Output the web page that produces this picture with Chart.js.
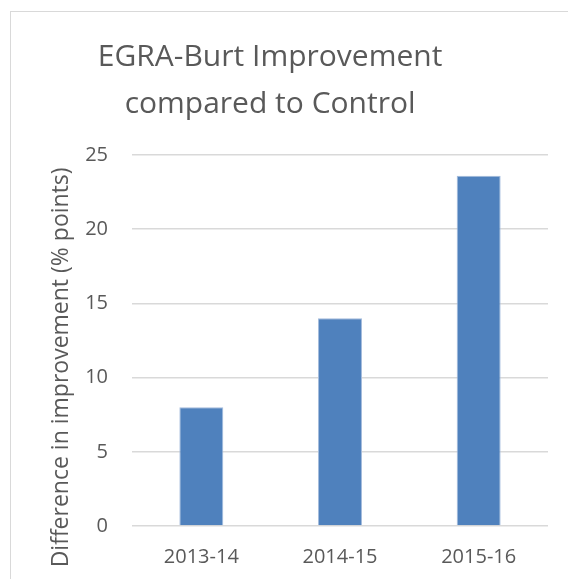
<!DOCTYPE html>
<html>
<head>
<meta charset="utf-8">
<script src="https://cdn.jsdelivr.net/npm/chart.js@4"></script>
<style>
    html, body { margin: 0; padding: 0; background: #fff; overflow: hidden; }
    #frame {
        position: absolute;
        left: 10px;
        top: 11px;
        width: 600px;
        height: 600px;
        border: 1px solid #d9d9d9;
    }
    #wrap { position: absolute; left: 0; top: 0; width: 568px; height: 579px; }
</style>
</head>
<body>
<div id="frame"></div>
<div id="wrap"><canvas id="improvementChart" width="568" height="579"></canvas></div>
<script>
// Chart data
let years = ['2013-14', '2014-15', '2015-16'];
let improvement = [8.0, 14.0, 23.6];
let yTicks = [0, 5, 10, 15, 20, 25];

let textColor = '#595959';
let fontFamily = '"Open Sans", Lato, sans-serif';

let ctx = document.getElementById('improvementChart').getContext('2d');
let improvementChart = new Chart(ctx, {
    type: 'bar',
    data: {
        labels: years,
        datasets: [{
            label: 'Difference in improvement',
            data: improvement,
            backgroundColor: '#4f81bd',
            borderColor: '#a3bbdc',
            borderWidth: 1,
            barPercentage: 1,
            categoryPercentage: 0.317
        }]
    },
    options: {
        responsive: false,
        animation: false,
        layout: {
            padding: { left: 0, top: 11, right: 20, bottom: 0 }
        },
        plugins: {
            legend: { display: false },
            tooltip: { enabled: false },
            title: {
                display: true,
                text: ['EGRA-Burt Improvement ', 'compared to Control '],
                color: textColor,
                font: { family: fontFamily, size: 30, weight: 'normal', lineHeight: '47px' },
                padding: { top: 23, bottom: 27 }
            }
        },
        scales: {
            x: {
                afterFit: function(axis) { axis.height = 53; },
                grid: { display: false, drawTicks: false },
                border: { display: false },
                ticks: {
                    color: textColor,
                    font: { family: fontFamily, size: 20 },
                    padding: 19
                }
            },
            y: {
                min: 0,
                max: 25,
                afterFit: function(axis) { axis.width = 132; },
                afterBuildTicks: function(axis) {
                    axis.ticks = yTicks.map(function(v) { return { value: v }; });
                },
                grid: { color: '#d9d9d9', lineWidth: 1.5, drawTicks: false },
                border: { display: false },
                ticks: {
                    color: textColor,
                    font: { family: fontFamily, size: 20 },
                    padding: 24
                },
                title: {
                    display: true,
                    // trailing spaces push the text down, as in the original
                    text: 'Difference in improvement (% points)         ',
                    color: textColor,
                    font: { family: fontFamily, size: 23 },
                    padding: { top: 48, bottom: 0 }
                }
            }
        }
    }
});
</script>
</body>
</html>
